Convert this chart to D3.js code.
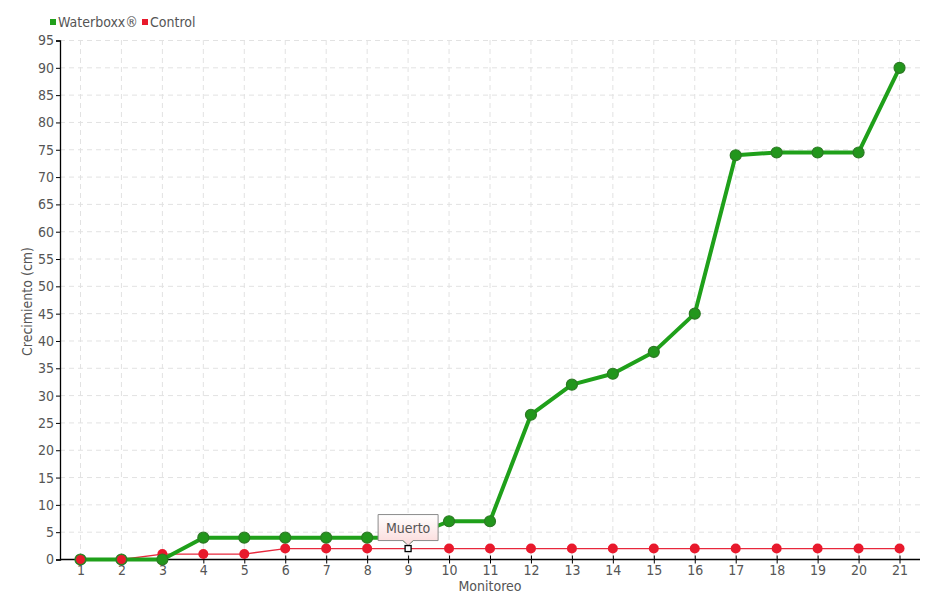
<!DOCTYPE html>
<html><head><meta charset="utf-8">
<script src="https://cdn.jsdelivr.net/npm/d3@7"></script>
<style>body{margin:0;background:#fff}text{font-family:"DejaVu Sans Condensed","DejaVu Sans",sans-serif;fill:#555}</style>
</head><body><svg id="c" width="940" height="600"></svg>
<script>
const categories = ["1","2","3","4","5","6","7","8","9","10","11","12","13","14","15","16","17","18","19","20","21"];
const waterboxx = [0,0,0,4,4,4,4,4,4,7,7,26.5,32,34,38,45,74,74.5,74.5,74.5,90];
const control = [0,0,1,1,1,2,2,2,2,2,2,2,2,2,2,2,2,2,2,2,2];
const yTicks = [0,5,10,15,20,25,30,35,40,45,50,55,60,65,70,75,80,85,90,95];
const seriesNames = ["Waterboxx®","Control"];
const annotation = {index: 8, label: "Muerto"};

const svg = d3.select("#c");
const L=60,R=920,T=40,B=559;
const x = d3.scalePoint().domain(categories).range([L,R]).padding(0.5);
const y = d3.scaleLinear().domain([0,95]).range([B,T]);

// grid
const g = svg.append("g");
g.selectAll("line.h").data(yTicks.filter(d=>d>0)).join("line")
 .attr("x1",L).attr("x2",R).attr("y1",d=>y(d)+0.5).attr("y2",d=>y(d)+0.5)
 .attr("stroke","#e2e2e2").attr("stroke-dasharray","5,4");
g.selectAll("line.v").data(categories).join("line")
 .attr("x1",d=>x(d)).attr("x2",d=>x(d)).attr("y1",T).attr("y2",B)
 .attr("stroke","#e2e2e2").attr("stroke-dasharray","5,4");

// axes
const ya = svg.append("g").attr("transform",`translate(${L},0.5)`)
 .call(d3.axisLeft(y).tickValues(yTicks).tickSize(4).tickPadding(2));
ya.select(".domain").attr("stroke","#000").attr("stroke-width",1.3);
ya.selectAll(".tick line").attr("stroke","#000");
ya.selectAll("text").style("font-size","14px").attr("fill","#555");
const xa = svg.append("g").attr("transform",`translate(0,${B+0.5})`)
 .call(d3.axisBottom(x).tickSize(4).tickPadding(2));
xa.select(".domain").attr("stroke","#000").attr("stroke-width",1.3).attr("d",`M${L},0H${R}`);
xa.selectAll(".tick line").attr("stroke","#000").attr("y1",-4);
xa.selectAll("text").style("font-size","14px").attr("fill","#555");

// labels
svg.append("text").attr("transform",`translate(32,${(T+B)/2+2}) rotate(-90)`)
 .attr("text-anchor","middle").style("font-size","14px").text("Crecimiento (cm)");
svg.append("text").attr("x",490).attr("y",591).attr("text-anchor","middle").style("font-size","14px").text("Monitoreo");

// control line
const lineC = d3.line().x((d,i)=>x(categories[i])).y(d=>y(d)+0.5);
svg.append("path").datum(control).attr("d",lineC).attr("fill","none").attr("stroke","#e8283c").attr("stroke-width",1.3);
svg.selectAll("circle.c").data(control).join("circle")
 .attr("cx",(d,i)=>x(categories[i])).attr("cy",d=>y(d)+0.5).attr("r",5)
 .attr("fill",(d,i)=>i===annotation.index?"none":"#e8192c");

// waterboxx line
svg.append("path").datum(waterboxx).attr("d",lineC).attr("fill","none").attr("stroke","#1fa01a").attr("stroke-width",4).attr("stroke-linejoin","round");
svg.selectAll("circle.w").data(waterboxx).join("circle")
 .attr("cx",(d,i)=>x(categories[i])).attr("cy",d=>y(d)+0.5).attr("r",5.5)
 .attr("fill","#22961c").attr("stroke","#2c7a24").attr("stroke-width",1.2);

// control points drawn on top at first points
svg.selectAll("circle.c2").data(control.slice(0,2)).join("circle")
 .attr("cx",(d,i)=>x(categories[i])).attr("cy",d=>y(d)+0.5).attr("r",4.5).attr("fill","#e8192c");

// annotation
const ax = x(categories[annotation.index]), ay = y(control[annotation.index])+0.5;
const defs = svg.append("defs");
const lg = defs.append("linearGradient").attr("id","tg").attr("x1",0).attr("x2",0).attr("y1",0).attr("y2",1);
lg.append("stop").attr("offset","0%").attr("stop-color","#ffffff");
lg.append("stop").attr("offset","100%").attr("stop-color","#fbd9d9");
const bw=60,bh=26,bx=ax-30,by=ay-34;
svg.append("path").attr("d",`M${bx},${by}H${bx+bw}V${by+bh}H${ax+5}L${ax},${by+bh+5}L${ax-5},${by+bh}H${bx}Z`)
 .attr("fill","url(#tg)").attr("stroke","#8a8a8a").attr("stroke-width",1);
svg.append("text").attr("x",ax).attr("y",by+18).attr("text-anchor","middle").style("font-size","14px").attr("fill","#555").text(annotation.label);
svg.append("rect").attr("x",ax-3).attr("y",ay-3).attr("width",6).attr("height",6).attr("fill","#fff").attr("stroke","#000").attr("stroke-width",1.3);

// legend
const leg = svg.append("g");
const colors = ["#22a01c","#e8192c"];
const lx = [50,142];
seriesNames.forEach((n,i)=>{
  leg.append("rect").attr("x",lx[i]).attr("y",19).attr("width",6).attr("height",6).attr("fill",colors[i]);
  leg.append("text").attr("x",lx[i]+8).attr("y",27).style("font-size","14px").attr("fill","#555").text(n);
});
</script></body></html>
